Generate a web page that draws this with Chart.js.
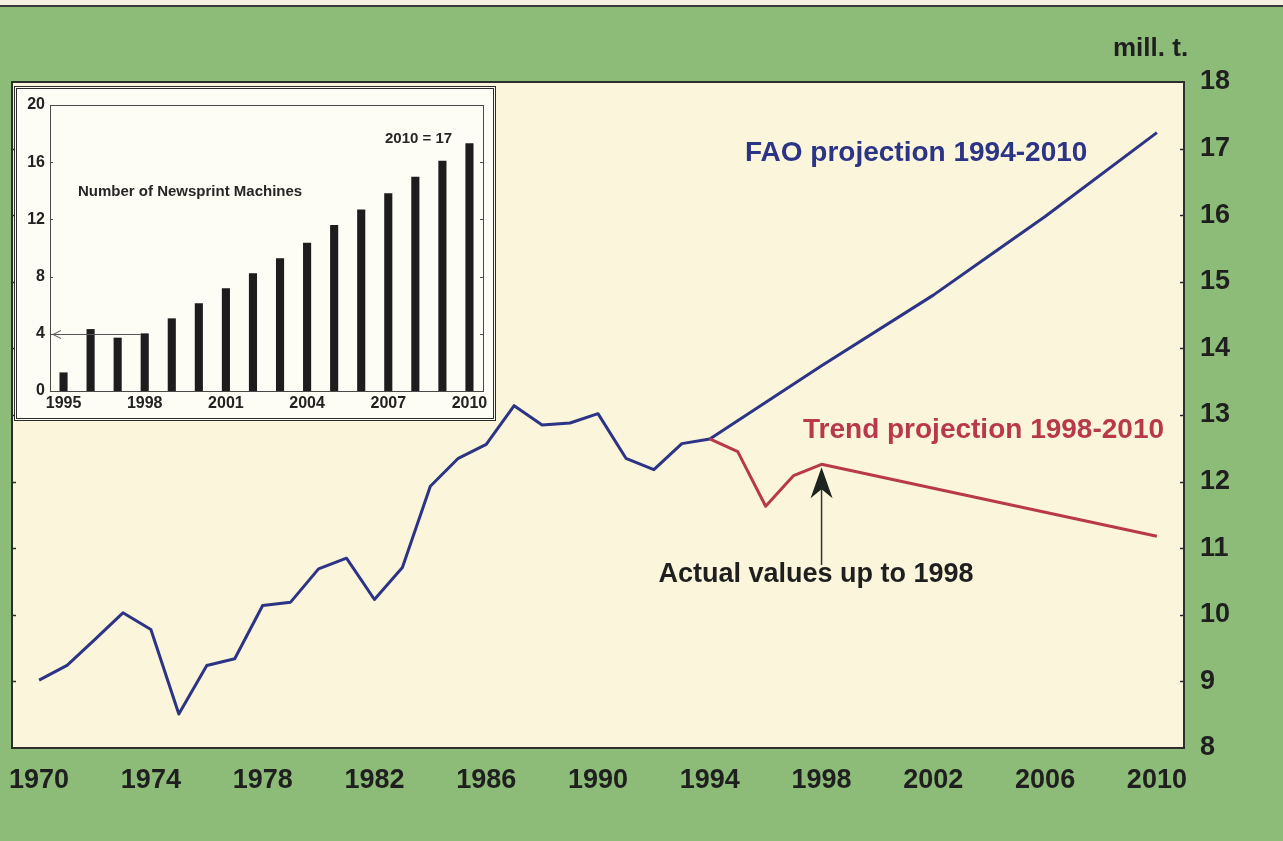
<!DOCTYPE html>
<html><head><meta charset="utf-8">
<script src="https://cdn.jsdelivr.net/npm/chart.js@4/dist/chart.umd.min.js"></script>
<style>
html,body{margin:0;padding:0;}
body{width:1283px;height:841px;overflow:hidden;background:#8dbb78;position:relative;font-family:'Liberation Sans',Arial,sans-serif;}
#topstrip{position:absolute;left:0;top:0;width:1283px;height:5px;background:#f4f1e2;border-bottom:2px solid #3a3a3a;}
#main{position:absolute;left:0;top:0;}
#insetBox{position:absolute;left:14px;top:86px;width:476px;height:329px;background:#fdfcf5;border:3px double #2b2b2b;}
#inset{position:absolute;left:0;top:0;}
</style></head>
<body>
<div id="topstrip"></div>
<canvas id="main" width="1283" height="841"></canvas>
<div id="insetBox"><canvas id="inset" width="476" height="329"></canvas></div>
<script>
// ---------- data ----------
const histYears  = [1970,1971,1972,1973,1974,1975,1976,1977,1978,1979,1980,1981,1982,1983,1984,1985,1986,1987,1988,1989,1990,1991,1992,1993,1994];
const histValues = [9.02,9.24,9.63,10.03,9.78,8.51,9.24,9.34,10.14,10.19,10.69,10.85,10.23,10.71,11.93,12.35,12.56,13.14,12.85,12.88,13.02,12.35,12.18,12.57,12.64];
const faoYears   = [1994,1998,2002,2004,2006,2010];
const faoValues  = [12.64,13.74,14.80,15.39,15.98,17.24];
const trendYears  = [1994,1995,1996,1997,1998,2010];
const trendValues = [12.64,12.45,11.63,12.09,12.26,11.18];
const xTickYears = [1970,1974,1978,1982,1986,1990,1994,1998,2002,2006,2010];
const yTickValues = [8,9,10,11,12,13,14,15,16,17,18];

const insetYears = ['1995','1996','1997','1998','1999','2000','2001','2002','2003','2004','2005','2006','2007','2008','2009','2010'];
const insetMachines = [1.3,4.33,3.73,4.03,5.08,6.13,7.18,8.23,9.28,10.37,11.6,12.7,13.82,14.99,16.1,17.32];
const insetYTicks = [0,4,8,12,16,20];
const insetLabelYears = ['1995','1998','2001','2004','2007','2010'];

const FONT = "'Liberation Sans', Arial, sans-serif";
const BLUE = '#2c3486', RED = '#b8394a', INK = '#1f1f1f';
const pts = (xs, ys) => xs.map((x,i)=>({x:x, y:ys[i]}));

// ---------- main chart ----------
const mainPlugin = {
  id: 'mainDeco',
  beforeDraw(c){
    const a = c.chartArea, ctx = c.ctx;
    ctx.save(); ctx.fillStyle = '#fbf5db'; ctx.fillRect(a.left, a.top, a.right-a.left, a.bottom-a.top); ctx.restore();
  },
  afterDraw(c){
    const a = c.chartArea, ctx = c.ctx, xs = c.scales.x, ys = c.scales.y;
    ctx.save();
    // border
    ctx.strokeStyle = '#2e2e2e'; ctx.lineWidth = 2;
    ctx.strokeRect(a.left, a.top, a.right-a.left, a.bottom-a.top);
    // inward ticks
    ctx.lineWidth = 1.5;
    yTickValues.forEach(v=>{
      if (v===8||v===18) return;
      const y = Math.round(ys.getPixelForValue(v))+0.5;
      ctx.beginPath(); ctx.moveTo(a.left, y); ctx.lineTo(a.left+4, y); ctx.stroke();
      ctx.beginPath(); ctx.moveTo(a.right, y); ctx.lineTo(a.right-4, y); ctx.stroke();
    });
    // texts
    ctx.font = 'bold 28px ' + FONT; ctx.textBaseline = 'alphabetic'; ctx.textAlign = 'left';
    ctx.fillStyle = BLUE; ctx.fillText('FAO projection 1994-2010', 745, 161);
    ctx.fillStyle = RED;  ctx.fillText('Trend projection 1998-2010', 803, 438);
    ctx.fillStyle = INK;  ctx.font = 'bold 26px ' + FONT;
    ctx.fillText('mill. t.', 1113, 56);
    ctx.font = 'bold 27px ' + FONT; ctx.textAlign = 'center';
    ctx.fillText('Actual values up to 1998', 816, 582);
    // arrow
    const ax = xs.getPixelForValue(1998);
    const tipY = ys.getPixelForValue(12.26) + 3;
    ctx.strokeStyle = '#333'; ctx.lineWidth = 1.5;
    ctx.beginPath(); ctx.moveTo(ax, tipY+20); ctx.lineTo(ax, 565); ctx.stroke();
    ctx.fillStyle = '#1d2420';
    ctx.beginPath(); ctx.moveTo(ax, tipY); ctx.lineTo(ax-11, tipY+31); ctx.lineTo(ax, tipY+22); ctx.lineTo(ax+11, tipY+31); ctx.closePath(); ctx.fill();
    ctx.restore();
  }
};

new Chart(document.getElementById('main'), {
  type: 'line',
  data: { datasets: [
    { data: pts(trendYears, trendValues), borderColor: RED, borderWidth: 3, pointRadius: 0, tension: 0, borderJoinStyle: 'round' },
    { data: pts(faoYears, faoValues), borderColor: BLUE, borderWidth: 3, pointRadius: 0, tension: 0, borderJoinStyle: 'round' },
    { data: pts(histYears, histValues), borderColor: BLUE, borderWidth: 3, pointRadius: 0, tension: 0, borderJoinStyle: 'round' }
  ]},
  options: {
    responsive: false, animation: false, devicePixelRatio: 1,
    layout: { padding: { left: 12, top: 82, right: 0, bottom: 0 } },
    plugins: { legend: { display: false }, tooltip: { enabled: false } },
    scales: {
      x: { type: 'linear', position: 'bottom', min: 1969.03, max: 2010.97,
        grid: { display: false, drawTicks: false }, border: { display: false },
        afterBuildTicks: s => { s.ticks = xTickYears.map(v=>({value:v})); },
        afterFit: s => { s.height = 93; s.paddingLeft = 0; s.paddingRight = 0; },
        ticks: { padding: 16, color: INK, font: { family: FONT, size: 27, weight: 'bold' }, maxRotation: 0, autoSkip: false, callback: v => String(v) } },
      y: { type: 'linear', position: 'right', min: 8, max: 18,
        grid: { display: false, drawTicks: false }, border: { display: false },
        afterBuildTicks: s => { s.ticks = yTickValues.map(v=>({value:v})); },
        afterFit: s => { s.width = 99; s.paddingTop = 0; s.paddingBottom = 0; },
        ticks: { padding: 16, color: INK, font: { family: FONT, size: 27, weight: 'bold' }, callback: v => String(v) } }
    }
  },
  plugins: [mainPlugin]
});

// ---------- inset chart ----------
const insetPlugin = {
  id: 'insetDeco',
  afterDraw(c){
    const a = c.chartArea, ctx = c.ctx, xs = c.scales.x, ys = c.scales.y;
    ctx.save();
    ctx.strokeStyle = '#4a4a4a'; ctx.lineWidth = 1;
    ctx.strokeRect(a.left+0.5, a.top+0.5, a.right-a.left, a.bottom-a.top);
    insetYTicks.forEach(v=>{
      if (v===0||v===20) return;
      const y = Math.round(ys.getPixelForValue(v))+0.5;
      ctx.beginPath(); ctx.moveTo(a.left, y); ctx.lineTo(a.left+3, y); ctx.stroke();
      ctx.beginPath(); ctx.moveTo(a.right, y); ctx.lineTo(a.right-3, y); ctx.stroke();
    });
    // arrow at 4 pointing to axis
    const y4 = Math.round(ys.getPixelForValue(4))+0.5;
    const xEnd = xs.getPixelForValue(3) - 4;
    ctx.strokeStyle = '#555';
    ctx.beginPath(); ctx.moveTo(xEnd, y4); ctx.lineTo(a.left+3, y4); ctx.stroke();
    ctx.beginPath(); ctx.moveTo(a.left+11, y4-4); ctx.lineTo(a.left+3, y4); ctx.lineTo(a.left+11, y4+4); ctx.stroke();
    // texts
    ctx.fillStyle = '#262626'; ctx.font = 'bold 15px ' + FONT; ctx.textAlign = 'left';
    ctx.fillText('Number of Newsprint Machines', 78-17, 196-89);
    ctx.fillText('2010 = 17', 385-17, 143-89);
    ctx.restore();
  }
};

new Chart(document.getElementById('inset'), {
  type: 'bar',
  data: { labels: insetYears, datasets: [{ data: insetMachines, backgroundColor: '#1d1d1d', barPercentage: 0.3, categoryPercentage: 1 }] },
  options: {
    responsive: false, animation: false, devicePixelRatio: 1,
    layout: { padding: { left: 0, top: 16, right: 10, bottom: 0 } },
    plugins: { legend: { display: false }, tooltip: { enabled: false } },
    scales: {
      x: { grid: { display: false, drawTicks: false }, border: { display: false },
        afterFit: s => { s.height = 27; s.paddingLeft = 0; s.paddingRight = 0; },
        ticks: { autoSkip: false, maxRotation: 0, padding: 3, color: '#222', font: { family: FONT, size: 16, weight: 'bold' },
          callback: (v,i) => insetLabelYears.includes(insetYears[i]) ? insetYears[i] : '' } },
      y: { min: 0, max: 20, grid: { display: false, drawTicks: false }, border: { display: false },
        afterBuildTicks: s => { s.ticks = insetYTicks.map(v=>({value:v})); },
        afterFit: s => { s.width = 33; s.paddingTop = 0; s.paddingBottom = 0; },
        ticks: { padding: 5, color: '#222', font: { family: FONT, size: 16, weight: 'bold' } } }
    }
  },
  plugins: [insetPlugin]
});
</script>
</body></html>
